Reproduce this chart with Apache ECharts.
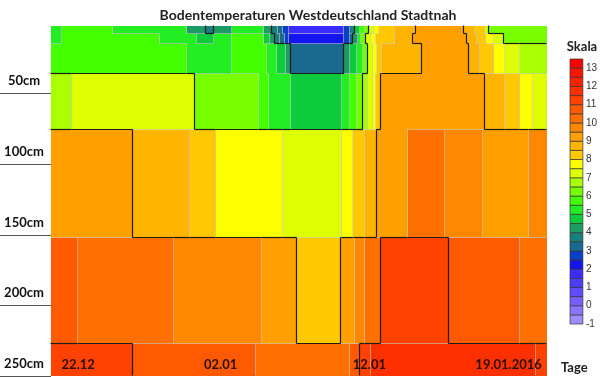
<!DOCTYPE html>
<html><head><meta charset="utf-8">
<script src="https://cdn.jsdelivr.net/npm/echarts@6/dist/echarts.min.js"></script>
<style>html,body{margin:0;padding:0;background:#fff}#c{width:600px;height:377px}</style>
</head><body><div id="c"></div>
<script>
const chartTitle = 'Bodentemperaturen Westdeutschland Stadtnah';
const scaleTitle = 'Skala';
const xTitle = 'Tage';

// measurement rows: depth band (cm) covered by each row
const rowNames  = ['5cm', '10cm', '20cm', '50cm', '100cm', '200cm', '250cm'];
const rowTop    = [2, 8, 15, 36, 76, 152, 227];
const rowBottom = [8, 15, 36, 76, 152, 227, 250];
const dayMax = 31;

// each row: day where a constant-temperature segment starts, and its temperature (°C)
const start5 = [0, 0.7, 3.9, 8.5, 9.7, 10.2, 11.3, 13.3, 13.8, 14.2, 14.5, 14.9, 18.3, 18.7, 19.0, 19.3, 19.6, 19.9, 20.2, 20.5, 21.5, 22.8, 25.8, 26.5, 27.1, 27.4];
const temp5  = [5.3, 5.8, 5.3, 4.2, 3.7, 4.2, 5.3, 4.2, 3.7, 3.2, 2.7, 1.8, 2.7, 3.7, 4.7, 5.8, 6.3, 7.3, 7.8, 8.3, 8.7, 9.2, 8.7, 8.3, 7.3, 6.3];

const start10 = [0, 0.7, 6.8, 9.1, 10.2, 11.3, 13.3, 13.7, 14.0, 14.3, 14.6, 14.9, 18.3, 18.7, 18.9, 19.2, 19.4, 19.7, 20.0, 20.3, 21.5, 22.6, 26.0, 26.6, 27.2, 27.7, 28.3];
const temp10  = [5.3, 5.8, 5.3, 4.7, 5.3, 5.8, 4.7, 4.2, 3.7, 3.2, 2.7, 2.2, 2.7, 3.2, 4.2, 5.3, 6.3, 7.3, 7.8, 8.3, 8.7, 9.2, 8.7, 8.3, 7.8, 7.3, 6.3];

const start20 = [0, 8.5, 11.3, 13.5, 14.1, 14.7, 15.0, 18.3, 18.7, 19.1, 19.5, 19.8, 20.1, 20.4, 20.7, 23.2, 26.1, 26.8, 27.7, 28.4, 29.3];
const temp20  = [5.8, 5.3, 5.8, 5.3, 4.7, 4.2, 3.3, 4.2, 4.7, 5.3, 6.3, 7.3, 7.8, 8.3, 8.7, 9.2, 8.7, 8.3, 7.8, 7.3, 6.9];

const start50 = [0, 1.3, 9.0, 13.0, 13.6, 15.0, 18.2, 18.7, 19.1, 19.5, 19.8, 20.1, 20.3, 20.6, 27.1, 28.4, 29.3, 30.1];
const temp50  = [6.8, 7.3, 6.3, 5.8, 5.3, 4.7, 5.3, 5.8, 6.3, 6.8, 7.3, 7.8, 8.3, 9.2, 8.7, 8.3, 7.8, 7.3];

const start100 = [0, 5.1, 8.7, 10.3, 14.5, 18.2, 18.9, 19.6, 20.4, 22.3, 24.6, 27.0, 29.9];
const temp100  = [9.2, 8.7, 8.3, 7.8, 7.3, 7.8, 8.3, 8.7, 9.2, 10.2, 9.6, 9.2, 9.6];

const start200 = [0, 1.7, 7.7, 13.2, 15.4, 18.1, 19.0, 19.6, 20.6, 24.9, 29.3];
const temp200  = [10.6, 10.2, 9.8, 9.2, 8.4, 9.2, 9.7, 10.2, 11.2, 10.7, 10.3];

const start250 = [0, 5.1, 12.8, 18.7, 19.3, 20.0, 30.3];
const temp250  = [11.3, 10.8, 10.4, 10.8, 11.2, 11.6, 11.2];

const rowStarts = [start5, start10, start20, start50, start100, start200, start250];
const rowTemps  = [temp5, temp10, temp20, temp50, temp100, temp200, temp250];

// axes
const depthTicks  = [50, 100, 150, 200, 250];
const depthLabels = ['50cm', '100cm', '150cm', '200cm', '250cm'];
const dateTicks   = [1.7, 10.6, 19.9, 28.6];
const dateLabels  = ['22.12', '02.01', '12.01', '19.01.2016'];

// colour scale (-1 .. 13.5 in steps of 0.5)
const scaleMin = -1, scaleMax = 13.5, scaleStep = 0.5;
const scaleColors = ['#a08cff','#8a74ff','#7560ff','#604cff','#4c3cff','#3a2cff','#1414f0','#0a40c8','#1a6a90','#1a7e7c',
  '#1a9c64','#0ccc3c','#22ee22','#44ff00','#77ff00','#aaff00','#ddff00','#ffff00','#ffc800','#ffb400',
  '#ffa000','#ff8800','#ff7000','#ff5a00','#ff4200','#ff3000','#ff2200','#ff1400','#ff0000'];
const contourLevels = [4, 6.75, 9, 11];

function pieceOf(v) { return Math.max(0, Math.min(scaleColors.length - 1, Math.floor((v - scaleMin) / scaleStep))); }
function colorOf(v) { return scaleColors[pieceOf(v)]; }
function crosses(a, b) { return contourLevels.some(t => (a < t) !== (b < t)); }
function tempAt(r, x) {
  const s = rowStarts[r]; let k = 0;
  for (let i = 0; i < s.length; i++) if (s[i] <= x) k = i;
  return rowTemps[r][k];
}
function nearestIndex(arr, v) {
  let best = -1, d = Infinity;
  arr.forEach((a, i) => { if (Math.abs(a - v) < d) { d = Math.abs(a - v); best = i; } });
  return d < 1e-6 ? best : -1;
}

// cells
const cells = [];
rowStarts.forEach((s, r) => {
  s.forEach((x0, i) => {
    const x1 = i + 1 < s.length ? s[i + 1] : dayMax;
    cells.push([x0, x1, rowTop[r], rowBottom[r], rowTemps[r][i]]);
  });
});

// boundary lines: grey where colour changes, black where a contour level is crossed
const greyLines = [], blackLines = [];
function addLine(xa, da, xb, db, a, b) {
  if (crosses(a, b)) blackLines.push([xa, da, xb, db]);
  else if (pieceOf(a) !== pieceOf(b)) greyLines.push([xa, da, xb, db]);
}
rowStarts.forEach((s, r) => {
  for (let i = 1; i < s.length; i++) addLine(s[i], rowTop[r], s[i], rowBottom[r], rowTemps[r][i - 1], rowTemps[r][i]);
});
for (let r = 0; r < rowStarts.length - 1; r++) {
  const xs = Array.from(new Set([...rowStarts[r], ...rowStarts[r + 1], dayMax])).sort((a, b) => a - b);
  for (let i = 0; i < xs.length - 1; i++) {
    const m = (xs[i] + xs[i + 1]) / 2;
    addLine(xs[i], rowBottom[r], xs[i + 1], rowBottom[r], tempAt(r, m), tempAt(r + 1, m));
  }
}

// legend pieces
const legendPieces = scaleColors.map((c, k) => [0, 1, scaleMin + k * scaleStep, scaleMin + (k + 1) * scaleStep, k]);

const chart = echarts.init(document.getElementById('c'), null, { renderer: 'canvas' });
const FONT = 'Lato';

function renderCell(params, api) {
  const p0 = api.coord([api.value(0), api.value(2)]);
  const p1 = api.coord([api.value(1), api.value(3)]);
  const x0 = Math.round(p0[0]), x1 = Math.round(p1[0]);
  const y0 = Math.round(p0[1]), y1 = Math.round(p1[1]);
  return { type: 'rect', shape: { x: x0, y: y0, width: x1 - x0, height: y1 - y0 },
    style: { fill: colorOf(api.value(4)) } };
}
function lineRenderer(color, width) {
  return function (params, api) {
    const a = api.coord([api.value(0), api.value(1)]);
    const b = api.coord([api.value(2), api.value(3)]);
    return { type: 'line', shape: { x1: Math.round(a[0]) - 0.5, y1: Math.round(a[1]) - 0.5, x2: Math.round(b[0]) - 0.5, y2: Math.round(b[1]) - 0.5 },
      style: { stroke: color, lineWidth: width } };
  };
}
function renderLegend(params, api) {
  const p0 = api.coord([api.value(0), api.value(3)]);
  const p1 = api.coord([api.value(1), api.value(2)]);
  return { type: 'rect', shape: { x: p0[0], y: p0[1], width: p1[0] - p0[0], height: p1[1] - p0[1] },
    style: { fill: scaleColors[api.value(4)], stroke: '#333', lineWidth: 0.7 } };
}

chart.setOption({
  animation: false,
  backgroundColor: '#fff',
  title: [
    { text: chartTitle, left: 303, top: 3, textAlign: 'center',
      textStyle: { fontFamily: FONT, fontWeight: 'bold', fontSize: 14, color: '#222' } },
    { text: scaleTitle, left: 577, top: 35, textAlign: 'center',
      textStyle: { fontFamily: FONT, fontWeight: 'bold', fontSize: 13, color: '#222' } },
    { text: xTitle, left: 556, top: 356,
      textStyle: { fontFamily: FONT, fontWeight: 'bold', fontSize: 13, color: '#222' } }
  ],
  grid: [
    { left: 51, top: 26, width: 496, height: 350 },
    { left: 570, top: 59, width: 17, height: 265 }
  ],
  xAxis: [
    { type: 'value', gridIndex: 0, min: 0, max: dayMax, z: 20,
      axisLine: { show: false }, axisTick: { show: false }, splitLine: { show: false },
      axisLabel: { inside: true, margin: 5, customValues: dateTicks,
        formatter: v => { const i = nearestIndex(dateTicks, v); return i >= 0 ? dateLabels[i] : ''; },
        fontFamily: FONT, fontWeight: 'bold', fontSize: 13, color: '#2a0f00' } },
    { type: 'value', gridIndex: 1, min: 0, max: 1, show: false }
  ],
  yAxis: [
    { type: 'value', gridIndex: 0, min: 2, max: 250, inverse: true,
      axisLine: { show: false }, splitLine: { show: false },
      axisTick: { show: true, length: 51, customValues: depthTicks, lineStyle: { color: '#555', width: 1 } },
      axisLabel: { customValues: depthTicks, formatter: v => depthLabels[depthTicks.indexOf(v)] || '',
        margin: 27, align: 'center', verticalAlign: 'bottom', padding: [0, 0, 6, 0],
        fontFamily: FONT, fontWeight: 'bold', fontSize: 13, color: '#111' } },
    { type: 'value', gridIndex: 1, min: scaleMin, max: scaleMax, interval: 1, position: 'right',
      axisLine: { show: false }, axisTick: { show: false }, splitLine: { show: false },
      axisLabel: { margin: 3, showMaxLabel: false, fontFamily: 'Liberation Sans', fontSize: 10, color: '#333' } }
  ],
  series: [
    { type: 'custom', xAxisIndex: 0, yAxisIndex: 0, data: cells, renderItem: renderCell,
      encode: { x: [0, 1], y: [2, 3] }, silent: true, z: 1 },
    { type: 'custom', xAxisIndex: 0, yAxisIndex: 0, data: greyLines, renderItem: lineRenderer('rgba(200,200,200,0.6)', 1),
      encode: { x: [0, 2], y: [1, 3] }, silent: true, z: 2 },
    { type: 'custom', xAxisIndex: 0, yAxisIndex: 0, data: blackLines, renderItem: lineRenderer('#1c1c1c', 1.2),
      encode: { x: [0, 2], y: [1, 3] }, silent: true, z: 3 },
    { type: 'custom', xAxisIndex: 1, yAxisIndex: 1, data: legendPieces, renderItem: renderLegend,
      encode: { x: [0, 1], y: [2, 3] }, silent: true, z: 1 }
  ]
});
</script>
</body></html>
